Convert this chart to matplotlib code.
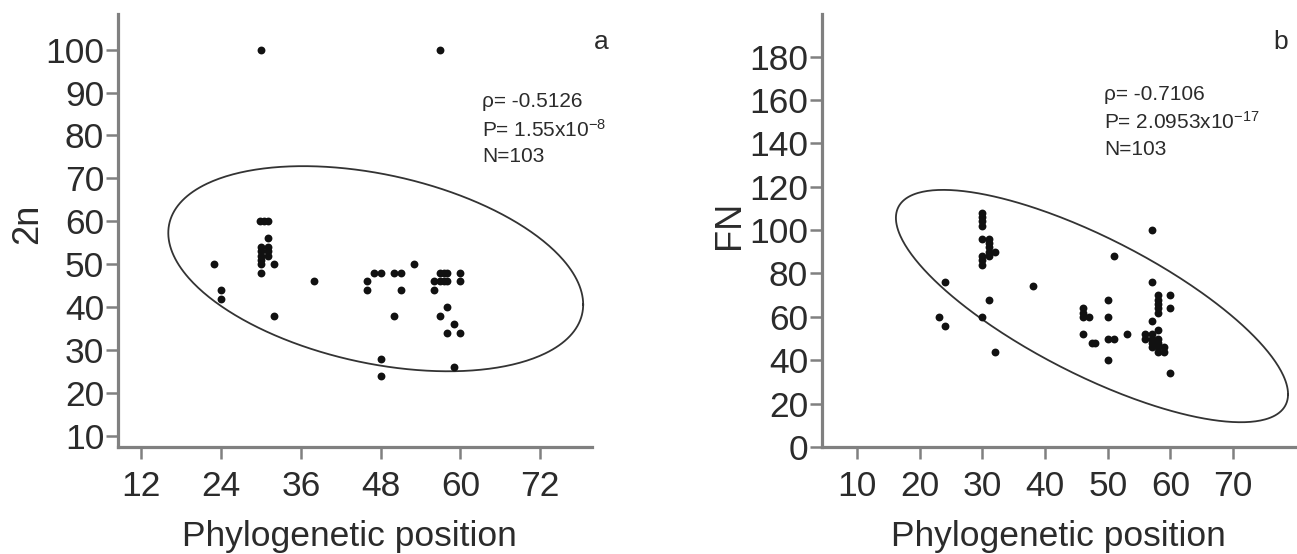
import numpy as np
import matplotlib
matplotlib.use("Agg")
import matplotlib.pyplot as plt

plt.rcParams['font.family'] = ['Liberation Sans', 'DejaVu Sans']
plt.rcParams['mathtext.fontset'] = 'custom'
plt.rcParams['mathtext.rm'] = 'Liberation Sans'
plt.rcParams['mathtext.default'] = 'regular'

# ---- Panel a data: phylogenetic position vs 2n ----
pos_a = [30, 57,
         23, 24, 24,
         29.9, 30.5, 31.1,
         31,
         30, 31, 30, 31, 30, 31, 30, 30, 32, 30,
         32,
         38,
         46, 46,
         47, 48,
         50, 51, 51, 50,
         53,
         48, 48,
         56, 56,
         57, 57.5, 58, 57, 57.5, 58,
         60, 60,
         58, 57, 59, 58, 60, 59]
chr_2n = [100, 100,
          50, 44, 42,
          60, 60, 60,
          56,
          54, 54, 53, 53, 52, 52, 51, 50, 50, 48,
          38,
          46,
          46, 44,
          48, 48,
          48, 48, 44, 38,
          50,
          28, 24,
          46, 44,
          48, 48, 48, 46, 46, 46,
          48, 46,
          40, 38, 36, 34, 34, 26]

# ---- Panel b data: phylogenetic position vs FN ----
pos_b = [23, 24, 24,
         30, 30, 30, 30,
         30, 31, 31, 31, 31, 32, 30, 31, 30, 30,
         31, 30, 32,
         38,
         46, 46, 46, 47, 46,
         48, 47.5,
         50, 50, 50, 51, 50, 51, 53,
         57, 57,
         58, 58, 58, 58, 58, 60, 60, 57,
         56, 56, 57, 57, 57, 58, 58, 58, 58, 59, 59, 58, 57,
         60]
fn_b = [60, 56, 76,
        102, 104, 106, 108,
        96, 96, 94, 92, 90, 90, 88, 88, 86, 84,
        68, 60, 44,
        74,
        64, 62, 60, 60, 52,
        48, 48,
        68, 60, 50, 50, 40, 88, 52,
        100, 76,
        70, 68, 66, 64, 62, 70, 64, 58,
        52, 50, 52, 50, 48, 54, 50, 48, 46, 46, 44, 44, 46,
        34]

xticks_a = [12, 24, 36, 48, 60, 72]
yticks_a = [10, 20, 30, 40, 50, 60, 70, 80, 90, 100]
xticks_b = [10, 20, 30, 40, 50, 60, 70]
yticks_b = [0, 20, 40, 60, 80, 100, 120, 140, 160, 180]

# ellipse parameters: centre x, centre y, half-width, half-height, covariance term
ell_a = (47.26, 48.95, 31.2, 23.9, -260.4)
ell_b = (47.48, 64.98, 31.29, 53.55, -1271.5)

stats_a = ["ρ= -0.5126", "P= 1.55x10$^{-8}$", "N=103"]
stats_b = ["ρ= -0.7106", "P= 2.0953x10$^{-17}$", "N=103"]

AX_COL = '#808080'
TXT_COL = '#2b2b2b'


def ellipse_curve(cx, cy, w, h, k, n=400):
    t = np.linspace(0, 2 * np.pi, n)
    c = k / w
    d = np.sqrt(h ** 2 - c ** 2)
    return cx + w * np.cos(t), cy + c * np.cos(t) + d * np.sin(t)


def style(ax):
    for s in ['top', 'right']:
        ax.spines[s].set_visible(False)
    for s in ['left', 'bottom']:
        ax.spines[s].set_color(AX_COL)
        ax.spines[s].set_linewidth(2.3)
    ax.tick_params(axis='both', colors=AX_COL, width=1.8, labelsize=25.5,
                   labelcolor=TXT_COL)
    ax.tick_params(axis='y', length=9, pad=1)
    ax.tick_params(axis='x', length=8.5, pad=8)


fig = plt.figure(figsize=(12.97, 5.54), dpi=100)

# ---- panel a ----
ax1 = fig.add_axes([0.0910, 0.1931, 0.3655, 0.7816])
ax1.scatter(pos_a, chr_2n, s=32, color='#111111', zorder=3, linewidths=0)
ex, ey = ellipse_curve(*ell_a)
ax1.plot(ex, ey, color='#333333', lw=1.3)
ax1.set_xlim(8.5, 79.8)
ax1.set_ylim(7.4, 108.3)
ax1.set_xticks(xticks_a)
ax1.set_yticks(yticks_a)
style(ax1)
ax1.set_xlabel('Phylogenetic position', fontsize=25.5, color=TXT_COL, va='baseline')
ax1.xaxis.set_label_coords(0.489, -0.229)
ax1.set_ylabel('2n', fontsize=26, color=TXT_COL, va='center')
ax1.yaxis.set_label_coords(-0.19, 0.515)
for txt, yy in zip(stats_a, [0.797, 0.732, 0.670]):
    ax1.text(0.768, yy, txt, transform=ax1.transAxes, fontsize=15,
             color=TXT_COL, va='center', ha='left')
ax1.text(1.02, 0.935, 'a', transform=ax1.transAxes, fontsize=19,
         color=TXT_COL, va='center', ha='center', clip_on=False)

# ---- panel b ----
ax2 = fig.add_axes([0.6338, 0.1931, 0.3662, 0.7816])
ax2.scatter(pos_b, fn_b, s=32, color='#111111', zorder=3, linewidths=0)
ex, ey = ellipse_curve(*ell_b)
ax2.plot(ex, ey, color='#333333', lw=1.3)
ax2.set_xlim(4.4, 80.2)
ax2.set_ylim(0, 199.6)
ax2.set_xticks(xticks_b)
ax2.set_yticks(yticks_b)
style(ax2)
ax2.set_xlabel('Phylogenetic position', fontsize=25.5, color=TXT_COL, va='baseline')
ax2.xaxis.set_label_coords(0.497, -0.229)
ax2.set_ylabel('FN', fontsize=26, color=TXT_COL, va='center')
ax2.yaxis.set_label_coords(-0.194, 0.513)
for txt, yy in zip(stats_b, [0.813, 0.751, 0.686]):
    ax2.text(0.594, yy, txt, transform=ax2.transAxes, fontsize=15,
             color=TXT_COL, va='center', ha='left')
ax2.text(0.965, 0.935, 'b', transform=ax2.transAxes, fontsize=19,
         color=TXT_COL, va='center', ha='center', clip_on=False)

fig.savefig('out.png', dpi=100)
